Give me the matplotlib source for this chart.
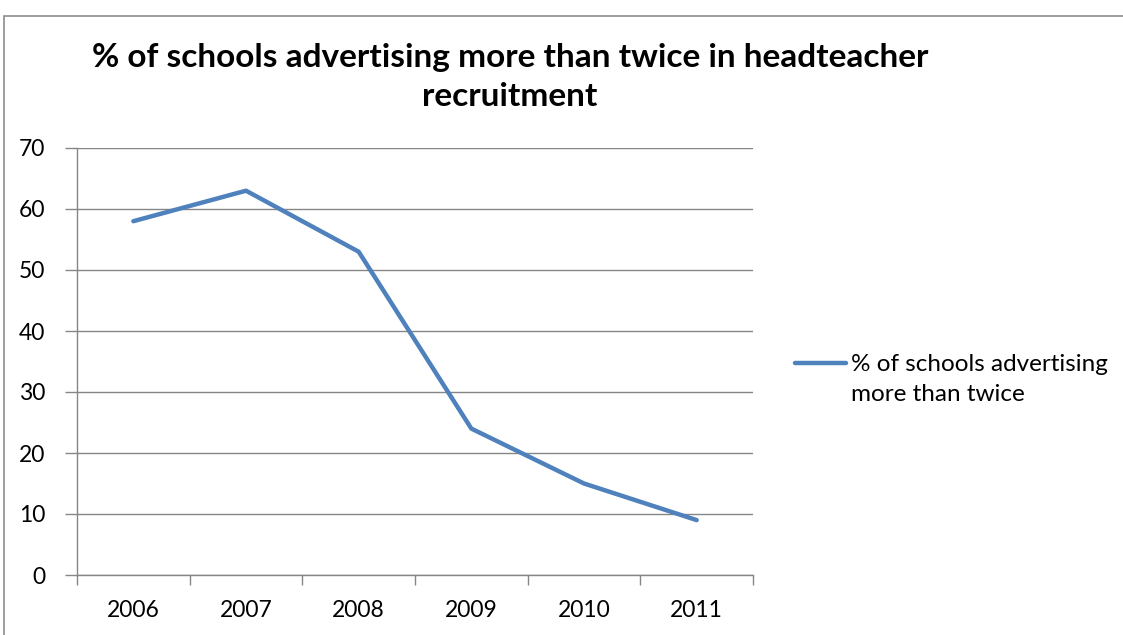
import matplotlib
matplotlib.use("Agg")
import matplotlib.pyplot as plt
from matplotlib.patches import Rectangle
from matplotlib.lines import Line2D

# ---- data ----
years = ["2006", "2007", "2008", "2009", "2010", "2011"]
pct_advertising = [58, 63, 53, 24, 15, 9]
y_ticks = [0, 10, 20, 30, 40, 50, 60, 70]

series_label = "% of schools advertising\nmore than twice"
title = "% of schools advertising more than twice in headteacher\nrecruitment"

plt.rcParams["font.family"] = ["Lato", "DejaVu Sans"]

W, H = 1123, 635
fig = plt.figure(figsize=(W / 100, H / 100), dpi=100)
fig.patch.set_facecolor("white")

# outer chart frame (runs off the right and bottom edges)
fig.add_artist(Rectangle((4 / W, -0.05), 1.2, (H - 16) / H + 0.05,
                         transform=fig.transFigure, fill=False,
                         edgecolor="#8c8c8c", linewidth=1.2))

ax = fig.add_axes([77 / W, (H - 575) / H, (753 - 77) / W, (575 - 148) / H])

x = [i + 0.5 for i in range(len(years))]
line_color = "#4F81BD"
ax.plot(x, pct_advertising, color=line_color, linewidth=3.2,
        solid_capstyle="round", solid_joinstyle="round")

ax.set_xlim(0, len(years))
ax.set_ylim(0, 70)
ax.set_yticks(y_ticks)
ax.set_yticklabels([str(v) for v in y_ticks])
ax.yaxis.grid(True, color="#868686", linewidth=1)
ax.set_axisbelow(True)

# category labels centred in each bin, ticks on the bin boundaries
ax.set_xticks(range(len(years) + 1))
ax.set_xticklabels([])
ax.set_xticks(x, minor=True)
ax.set_xticklabels(years, minor=True)
ax.tick_params(axis="x", which="minor", length=0, pad=18, labelsize=16.5)
ax.tick_params(axis="x", which="major", length=7, color="#868686", width=1)
ax.tick_params(axis="y", length=9, color="#868686", width=1, pad=14, labelsize=16.5)

for side in ["top", "right"]:
    ax.spines[side].set_visible(False)
for side in ["left", "bottom"]:
    ax.spines[side].set_color("#868686")
    ax.spines[side].set_linewidth(1)

fig.text(510 / W, 1 - 77 / H, title, ha="center", va="center",
         fontsize=24, fontweight="bold", linespacing=1.45)

# legend: line sample level with the first text line
leg_y = 1 - 363 / H
fig.add_artist(Line2D([795 / W, 846 / W], [leg_y, leg_y], color=line_color,
                      linewidth=3.2, solid_capstyle="round",
                      transform=fig.transFigure))
fig.text(851 / W, 1 - 354 / H, series_label, ha="left", va="top",
         fontsize=17.5, linespacing=1.55)

fig.savefig("out.png", dpi=100)
